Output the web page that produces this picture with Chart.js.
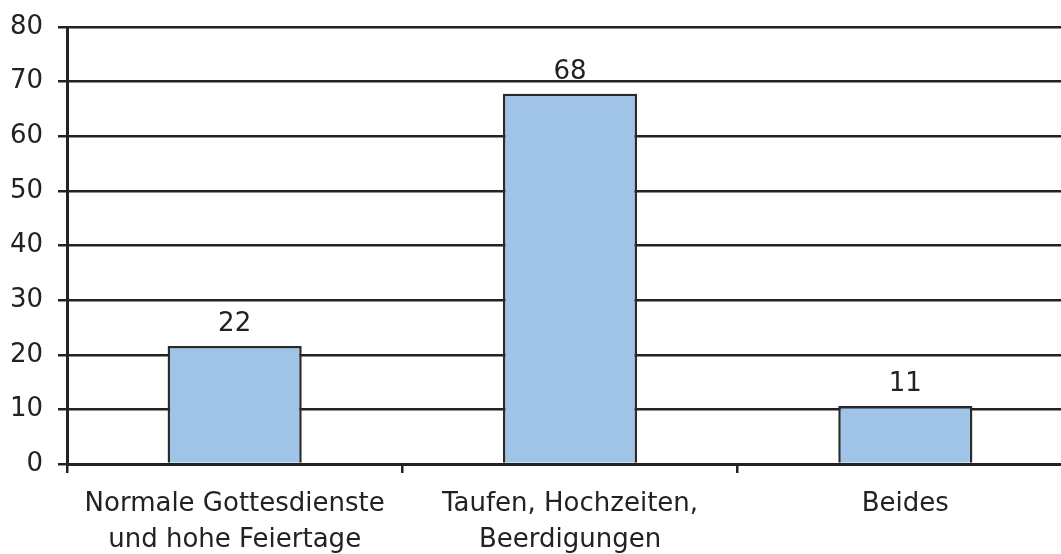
<!DOCTYPE html>
<html>
<head>
<meta charset="utf-8">
<script src="https://cdn.jsdelivr.net/npm/chart.js@4"></script>
<style>
  html, body { margin: 0; padding: 0; background: #fff; overflow: hidden; }
  #wrap { width: 1073px; height: 554px; }
</style>
</head>
<body>
<div id="wrap"><canvas id="chart"></canvas></div>
<script>
const categories = [
  ["Normale Gottesdienste", "und hohe Feiertage"],
  ["Taufen, Hochzeiten,", "Beerdigungen"],
  ["Beides"]
];
const values = [21.6, 67.8, 10.6];
const yTicks = [0, 10, 20, 30, 40, 50, 60, 70, 80];

const FONT = "'DejaVu Sans', Verdana, sans-serif";

// draws the rounded value above each bar
const valueLabels = {
  id: "valueLabels",
  afterDatasetsDraw(chart) {
    const ctx = chart.ctx;
    const meta = chart.getDatasetMeta(0);
    ctx.save();
    ctx.font = "26px " + FONT;
    ctx.fillStyle = "#222";
    ctx.textAlign = "center";
    ctx.textBaseline = "alphabetic";
    meta.data.forEach((bar, i) => {
      ctx.fillText(Math.round(values[i]), bar.x, bar.y - 15);
    });
    ctx.restore();
  }
};

new Chart(document.getElementById("chart"), {
  type: "bar",
  data: {
    labels: categories,
    datasets: [{
      data: values,
      backgroundColor: "#9fc4e7",
      borderColor: "#2a2a2a",
      borderWidth: 2.5,
      categoryPercentage: 1,
      barPercentage: 0.4
    }]
  },
  options: {
    responsive: true,
    maintainAspectRatio: false,
    animation: false,
    layout: { padding: { top: 0, left: 10, right: 0, bottom: 0 } },
    plugins: { legend: { display: false }, tooltip: { enabled: false } },
    scales: {
      x: {
        afterFit(axis) { axis.height = 90; },
        grid: {
          offset: true,
          drawOnChartArea: false,
          drawTicks: true,
          tickLength: 9,
          color: "#222",
          lineWidth: 2.5
        },
        border: { display: true, color: "#222", width: 3 },
        ticks: {
          color: "#222",
          font: { family: FONT, size: 26, lineHeight: 1.4 },
          padding: 13,
          maxRotation: 0,
          autoSkip: false
        }
      },
      y: {
        min: 0,
        max: 80,
        afterFit(axis) { axis.width = 57; axis.paddingTop = 27; },
        afterBuildTicks(axis) { axis.ticks = yTicks.map(v => ({ value: v })); },
        grid: {
          color: "#222",
          lineWidth: 2.5,
          drawTicks: true,
          tickLength: 9
        },
        border: { display: true, color: "#222", width: 3 },
        ticks: {
          color: "#222",
          font: { family: FONT, size: 26 },
          padding: 15
        }
      }
    }
  },
  plugins: [valueLabels]
});
</script>
</body>
</html>
